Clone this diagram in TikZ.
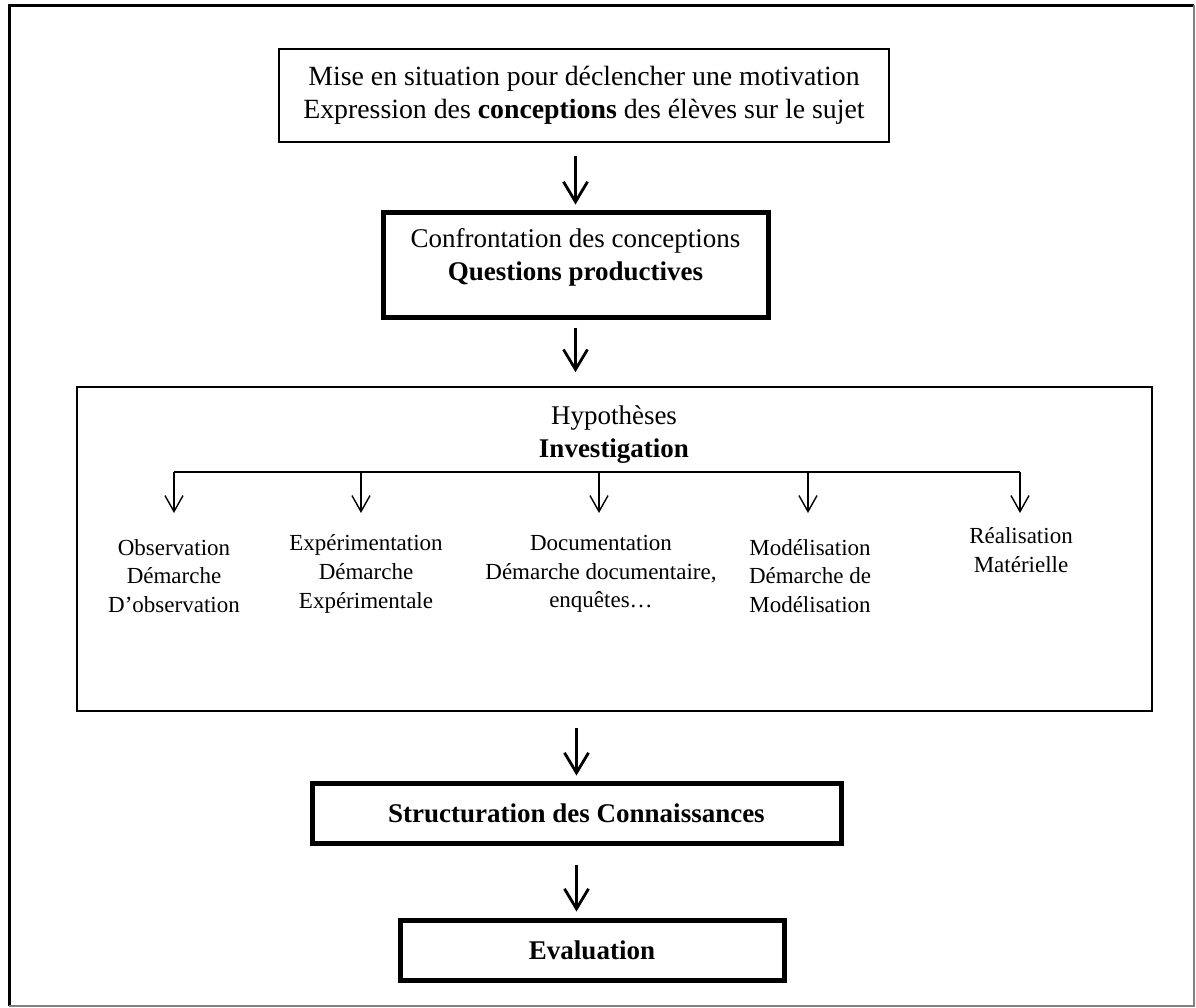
\documentclass[tikz,border=0pt]{standalone}
\usepackage{fontspec}
\setmainfont{Liberation Serif}
\usetikzlibrary{arrows.meta}

\begin{document}
\begin{tikzpicture}[x=0.5pt,y=-0.5pt,
 box/.style={draw,line width=0.8pt,align=center,inner sep=0pt,font=\fontsize{13.5}{16.5}\selectfont},
 thickbox/.style={box,line width=2.5pt},
 subtext/.style={align=center,inner sep=0pt,font=\fontsize{11.5}{14.3}\selectfont},
 mainarrow/.style={line width=1.4pt,-{Straight Barb[length=10pt,width=12pt]}},
 subarrow/.style={line width=0.7pt,-{Straight Barb[length=8pt,width=9pt]}}]
 \useasboundingbox (0,0) rectangle (1196,1008);
 % outer frame
 \draw[line width=1.5pt] (9,1006)--(9,5)--(1194,5);
 \draw[gray,line width=1pt] (9,1006)--(1194,1006)--(1194,5);
 % main column
 \node[box,minimum width=305pt,minimum height=46.5pt,font=\fontsize{13.9}{16.5}\selectfont] (situation) at (584,95.5)
  {Mise en situation pour déclencher une motivation\\Expression des \textbf{conceptions} des élèves sur le sujet};
 \node[thickbox,minimum width=192.5pt,minimum height=52.5pt] (confront) at (575.5,264.5)
  {Confrontation des conceptions\\\textbf{Questions productives}\rule[-10pt]{0pt}{0pt}};
 \node[box,minimum width=537.5pt,minimum height=162pt] (investig) at (614.5,549) {};
 \node[box,draw=none] (hypo) at (614,435) {Hypothèses\\\textbf{Investigation}};
 \node[thickbox,minimum width=264.5pt,minimum height=30pt,font=\fontsize{13.5}{16.5}\selectfont\bfseries] (struct) at (576.5,813)
  {Structuration des Connaissances};
 \node[thickbox,minimum width=192pt,minimum height=30pt,font=\fontsize{13.5}{16.5}\selectfont\bfseries] (evaluation) at (592,950)
  {Evaluation};
 % sub items
 \node[subtext] (obs) at (174,576) {Observation\\Démarche\\D'observation};
 \node[subtext] (expe) at (366,574) {Expérimentation\\Démarche\\Expérimentale};
 \node[subtext] (docu) at (601,574) {Documentation\\Démarche documentaire,\\enquêtes…};
 \node[subtext] (model) at (810,576) {Modélisation\\Démarche de\\Modélisation};
 \node[subtext] (real) at (1021,550) {Réalisation\\Matérielle};
 % branch
 \coordinate (b1) at (174,472); \coordinate (t1) at (174,513);
 \coordinate (b2) at (361,472); \coordinate (t2) at (361,513);
 \coordinate (b3) at (599,472); \coordinate (t3) at (599,513);
 \coordinate (b4) at (808,472); \coordinate (t4) at (808,513);
 \coordinate (b5) at (1020,472); \coordinate (t5) at (1020,513);
 \draw[line width=0.7pt] (b1)--(b5);
 \draw[subarrow] (b1)--(t1);
 \draw[subarrow] (b2)--(t2);
 \draw[subarrow] (b3)--(t3);
 \draw[subarrow] (b4)--(t4);
 \draw[subarrow] (b5)--(t5);
 % arrows
 \draw[mainarrow,shorten <=6.5pt,shorten >=2.5pt] (confront.north |- situation.south)--(confront.north);
 \draw[mainarrow,shorten <=4pt,shorten >=7pt] (confront.south)--(confront.south |- investig.north);
 \draw[mainarrow,shorten <=8pt,shorten >=2.5pt] (struct.north |- investig.south)--(struct.north);
 \draw[mainarrow,shorten <=9.5pt,shorten >=3pt] (struct.south)--(struct.south |- evaluation.north);
\end{tikzpicture}
\end{document}
